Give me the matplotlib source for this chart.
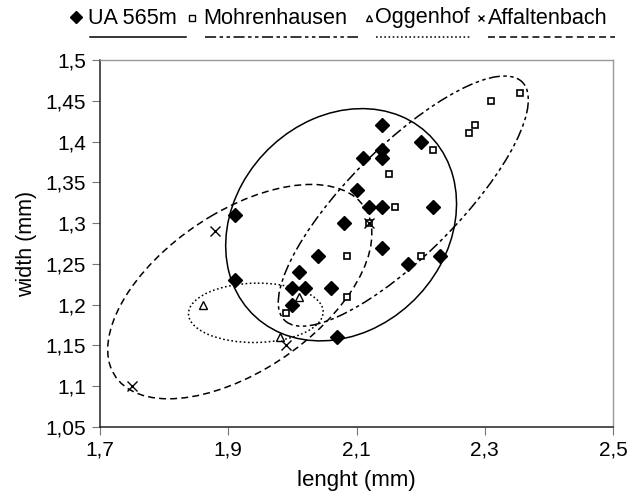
import numpy as np
import matplotlib
matplotlib.use("Agg")
import matplotlib.pyplot as plt
from matplotlib.patches import Ellipse
from matplotlib.lines import Line2D

plt.rcParams['font.family'] = ['Liberation Sans', 'DejaVu Sans']
plt.rcParams['lines.scale_dashes'] = False

# dados
ua_x = [2.14, 2.20, 2.14, 2.11, 2.14, 2.10, 2.12, 2.14, 2.22, 2.08, 1.91,
        2.14, 2.04, 2.18, 2.23, 2.01, 1.91, 2.00, 2.02, 2.06, 2.00, 2.07]
ua_y = [1.42, 1.40, 1.39, 1.38, 1.38, 1.34, 1.32, 1.32, 1.32, 1.30, 1.31,
        1.27, 1.26, 1.25, 1.26, 1.24, 1.23, 1.22, 1.22, 1.22, 1.20, 1.16]

mohr_x = [2.355, 2.31, 2.285, 2.275, 2.22, 2.15, 2.16, 2.12, 2.085, 2.20, 2.085, 1.99]
mohr_y = [1.46, 1.45, 1.42, 1.41, 1.39, 1.36, 1.32, 1.30, 1.26, 1.26, 1.21, 1.19]

ogg_x = [2.01, 1.98, 1.86]
ogg_y = [1.21, 1.16, 1.20]

affa_x = [1.88, 1.99, 2.12, 1.75]
affa_y = [1.29, 1.15, 1.30, 1.10]

# elipses: centro x, centro y, meia largura em x, meia altura em y, correlacao
ua_ell = [2.076, 1.298, 0.180, 0.1424, 0.18]
mohr_ell = [2.173, 1.327, 0.195, 0.1534, 0.81]
ogg_ell = [1.943, 1.190, 0.105, 0.0364, 0.03]
affa_ell = [1.918, 1.216, 0.206, 0.1314, 0.54]

x_ticks = [1.7, 1.9, 2.1, 2.3, 2.5]
x_labels = ["1,7", "1,9", "2,1", "2,3", "2,5"]
y_ticks = [1.05, 1.1, 1.15, 1.2, 1.25, 1.3, 1.35, 1.4, 1.45, 1.5]
y_labels = ["1,05", "1,1", "1,15", "1,2", "1,25", "1,3", "1,35", "1,4", "1,45", "1,5"]

names = ["UA 565m", "Mohrenhausen", "Oggenhof", "Affaltenbach"]

solid = '-'
dashdot = (0, (8, 2.5, 2.5, 2.5, 2.5, 2.5))
dotted = (0, (1.2, 1.8))
dashed = (0, (5, 3))


def elipse(params, ls):
    cx, cy, hx, hy, rho = params
    cov = np.array([[hx**2, rho*hx*hy], [rho*hx*hy, hy**2]])
    vals, vecs = np.linalg.eigh(cov)
    ang = np.degrees(np.arctan2(vecs[1, 1], vecs[0, 1]))
    return Ellipse((cx, cy), 2*np.sqrt(vals[1]), 2*np.sqrt(vals[0]), angle=ang,
                   fill=False, ec='black', lw=1.1, ls=ls)


fig = plt.figure(figsize=(6.29, 4.94), dpi=100)
ax = fig.add_axes([100/629, 1-427/494, 513/629, 367/494])

ax.add_patch(elipse(ua_ell, solid))
ax.add_patch(elipse(mohr_ell, dashdot))
ax.add_patch(elipse(ogg_ell, dotted))
ax.add_patch(elipse(affa_ell, dashed))

ax.plot(ua_x, ua_y, 'D', color='black', ms=7.5, ls='none')
ax.plot(mohr_x, mohr_y, 's', mfc='white', mec='black', mew=1.2, ms=5, ls='none')
ax.plot(ogg_x, ogg_y, '^', mfc='white', mec='black', mew=1.0, ms=6, ls='none')
ax.plot(affa_x, affa_y, 'x', color='black', mew=1.0, ms=6.5, ls='none')

ax.set_xlim(1.7, 2.5)
ax.set_ylim(1.05, 1.5)
ax.set_xticks(x_ticks)
ax.set_xticklabels(x_labels)
ax.set_yticks(y_ticks)
ax.set_yticklabels(y_labels)
ax.tick_params(labelsize=15, length=6, color='#777777', pad=4)
ax.set_xlabel("lenght (mm)", fontsize=16, labelpad=7)
ax.set_ylabel("width (mm)", fontsize=15.5, labelpad=6)

for s in ['left', 'bottom']:
    ax.spines[s].set_color('#222222')
    ax.spines[s].set_linewidth(1.1)
for s in ['top', 'right']:
    ax.spines[s].set_color('#999999')
    ax.spines[s].set_linewidth(1.0)

# legenda estilo excel, montada a mao
markers = ['D', 's', '^', 'x']
mk_px = [76, 192, 369, 481]
txt_px = [88, 203, 375, 488]
line_px = [(90, 186), (205, 358), (376, 471), (488, 615)]
styles = [solid, dashdot, dotted, dashed]
W, H = 629, 494
for i in range(4):
    if markers[i] == 'D':
        m = Line2D([mk_px[i]/W], [1-17/H], marker='D', color='black', ms=6.5, ls='none',
                   transform=fig.transFigure)
    elif markers[i] == 'x':
        m = Line2D([mk_px[i]/W], [1-18/H], marker='x', color='black', ms=5, mew=1, ls='none',
                   transform=fig.transFigure)
    else:
        m = Line2D([mk_px[i]/W], [1-18/H], marker=markers[i], mfc='white', mec='black',
                   ms=4.5, mew=1, ls='none', transform=fig.transFigure)
    fig.add_artist(m)
    fig.text(txt_px[i]/W, 1-18/H, names[i], fontsize=15.6, va='center', ha='left')
    x0, x1 = line_px[i]
    fig.add_artist(Line2D([x0/W, x1/W], [1-37/H, 1-37/H], color='black', lw=1.1,
                          ls=styles[i], transform=fig.transFigure))

fig.savefig("out.png", dpi=100)
